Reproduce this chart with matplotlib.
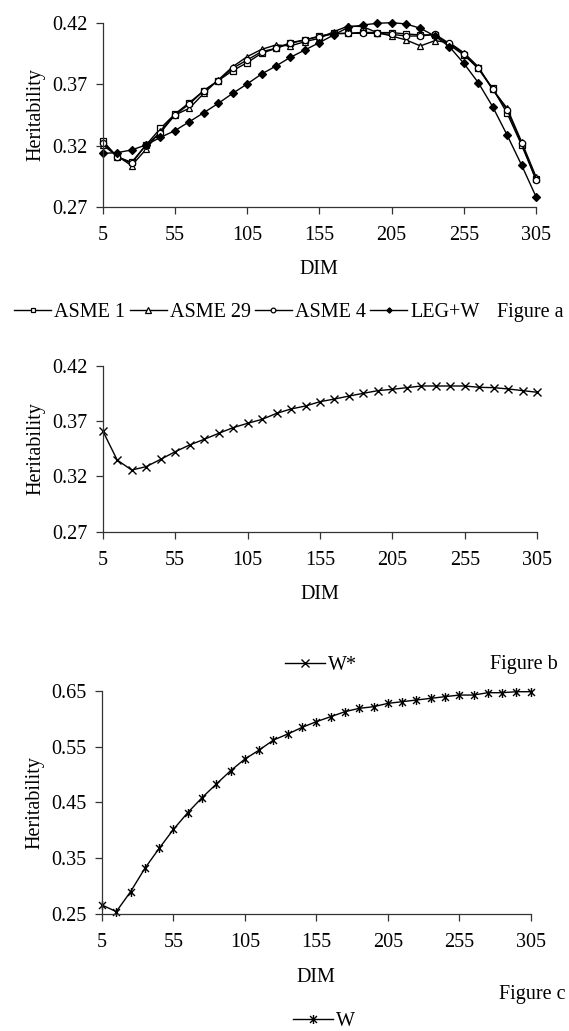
import matplotlib
matplotlib.use("Agg")
import matplotlib.pyplot as plt
from matplotlib.path import Path

plt.rcParams['font.family'] = ['Liberation Serif', 'DejaVu Serif']
FS = 14.5
plt.rcParams['font.size'] = FS

dim = list(range(5, 306, 10))
xticks = [5, 55, 105, 155, 205, 255, 305]

asme1 = [0.324, 0.3109, 0.3063, 0.3205, 0.3341, 0.3458, 0.3551, 0.3649, 0.3731, 0.3813,
         0.3878, 0.3955, 0.3995, 0.4042, 0.4064, 0.4096, 0.4118, 0.4118, 0.4126, 0.4124,
         0.4124, 0.4113, 0.4105, 0.4105, 0.4023, 0.3941, 0.3832, 0.3668, 0.3464, 0.3205, 0.2924]
asme29 = [0.3205, 0.3115, 0.3036, 0.3169, 0.3322, 0.345, 0.3505, 0.3627, 0.3737, 0.3845,
          0.3927, 0.3987, 0.4023, 0.4015, 0.405, 0.4077, 0.4132, 0.4178, 0.4173, 0.4124,
          0.4096, 0.4064, 0.4015, 0.4058, 0.4042, 0.396, 0.3845, 0.366, 0.3505, 0.3232, 0.2945]
asme4 = [0.3224, 0.3109, 0.3055, 0.3205, 0.3306, 0.345, 0.354, 0.3649, 0.3731, 0.3832,
         0.39, 0.3968, 0.3995, 0.4036, 0.4064, 0.4091, 0.4113, 0.4118, 0.4118, 0.4118,
         0.411, 0.4096, 0.4096, 0.411, 0.4036, 0.3949, 0.3832, 0.366, 0.3491, 0.3218, 0.2918]
legw = [0.3136, 0.3142, 0.3164, 0.3205, 0.3267, 0.3322, 0.3395, 0.3469, 0.3545, 0.3627,
        0.3704, 0.3785, 0.3851, 0.3922, 0.3982, 0.4042, 0.4105, 0.4167, 0.4186, 0.42,
        0.4205, 0.4195, 0.4159, 0.4096, 0.4009, 0.3873, 0.3715, 0.3518, 0.3286, 0.3041, 0.2782]
wstar = [0.3614, 0.3349, 0.3258, 0.3289, 0.3355, 0.3424, 0.3485, 0.3536, 0.359, 0.3642,
         0.3681, 0.3717, 0.3771, 0.3811, 0.3838, 0.3877, 0.3901, 0.3928, 0.3953, 0.3977,
         0.3989, 0.4004, 0.4019, 0.4019, 0.4019, 0.4019, 0.4007, 0.4004, 0.3992, 0.3977, 0.3962]
w = [0.2661, 0.2542, 0.29, 0.3318, 0.3676, 0.4016, 0.4315, 0.4584, 0.4828, 0.5067,
     0.5276, 0.5437, 0.5616, 0.5724, 0.5843, 0.5945, 0.6034, 0.6124, 0.6184, 0.6213,
     0.6273, 0.6303, 0.6333, 0.6363, 0.6393, 0.6422, 0.6422, 0.6464, 0.6464, 0.6482, 0.6482]

yt_a = [0.27, 0.32, 0.37, 0.42]
yt_c = [0.25, 0.35, 0.45, 0.55, 0.65]

star = Path([(-1, -1), (1, 1), (-1, 1), (1, -1), (0, -1.3), (0, 1.3)],
            [Path.MOVETO, Path.LINETO, Path.MOVETO, Path.LINETO, Path.MOVETO, Path.LINETO])

W, H = 569, 1031
fig = plt.figure(figsize=(W / 100, H / 100), dpi=100)


def make_ax(left, right, top, bottom):
    ax = fig.add_axes([left / W, 1 - bottom / H, (right - left) / W, (bottom - top) / H])
    for s in ['top', 'right']:
        ax.spines[s].set_visible(False)
    for s in ['left', 'bottom']:
        ax.spines[s].set_linewidth(0.9)
        ax.spines[s].set_color('#333333')
    ax.tick_params(direction='out', length=5, width=0.9, color='#333333', labelsize=FS)
    ax.tick_params(axis='x', pad=9)
    ax.tick_params(axis='y', pad=6)
    ax.set_xlim(5, 305)
    ax.set_xticks(xticks)
    ax.set_xlabel('DIM', fontsize=FS, labelpad=11)
    ax.set_ylabel('Heritability', fontsize=FS, labelpad=5)
    return ax


lk = dict(color='black', lw=1.0)

# Panel a
ax = make_ax(102.7, 536, 23.3, 206.7)
ax.set_ylim(0.27, 0.42)
ax.set_yticks(yt_a)
ax.set_yticklabels([f'{v:.2f}' for v in yt_a])
h1, = ax.plot(dim, asme1, marker='s', ms=4.5, mfc='white', mec='black', mew=0.9, label='ASME 1', **lk)
h2, = ax.plot(dim, asme29, marker='^', ms=5, mfc='white', mec='black', mew=0.9, label='ASME 29', **lk)
h3, = ax.plot(dim, asme4, marker='o', ms=4.5, mfc='white', mec='black', mew=0.9, label='ASME 4', **lk)
h4, = ax.plot(dim, legw, marker='D', ms=3.6, mfc='black', mec='black', mew=0.9, label='LEG+W', **lk)

legend_kw = dict(frameon=False, fontsize=FS, handletextpad=0.15, columnspacing=0.2,
                 borderpad=0, borderaxespad=0)
fig.legend(handles=[h1, h2, h3, h4], loc='center', ncol=4, handlelength=1.85, markerscale=0.75,
           bbox_to_anchor=(247 / W, 1 - 312 / H), **legend_kw)
fig.text(530 / W, 1 - 312 / H, 'Figure a', ha='center', va='center', fontsize=FS)

# Panel b
ax = make_ax(102.7, 537.3, 366, 531.7)
ax.set_ylim(0.27, 0.42)
ax.set_yticks(yt_a)
ax.set_yticklabels([f'{v:.2f}' for v in yt_a])
hb, = ax.plot(dim, wstar, marker='x', ms=5.5, mfc='none', mec='black', mew=1.0, label='W*', **lk)
fig.legend(handles=[hb], loc='center', handlelength=2.0,
           bbox_to_anchor=(321 / W, 1 - 665 / H), **legend_kw)
fig.text(524 / W, 1 - 665 / H, 'Figure b', ha='center', va='center', fontsize=FS)

# Panel c
ax = make_ax(102, 530.7, 690.7, 914)
ax.set_ylim(0.25, 0.65)
ax.set_yticks(yt_c)
ax.set_yticklabels([f'{v:.2f}' for v in yt_c])
hc, = ax.plot(dim, w, marker=star, ms=6.5, mfc='none', mec='black', mew=1.0, label='W', **lk)
fig.legend(handles=[hc], loc='center', handlelength=2.0,
           bbox_to_anchor=(324 / W, 1 - 1021 / H), **legend_kw)
fig.text(532 / W, 1 - 994 / H, 'Figure c', ha='center', va='center', fontsize=FS)

for a in fig.axes:
    for line in a.lines:
        line.set_clip_on(False)

fig.savefig('out.png', dpi=100, facecolor='white')
